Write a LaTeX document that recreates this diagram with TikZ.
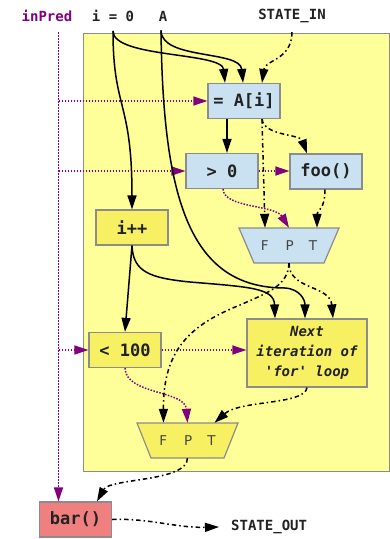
\documentclass[tikz,border=0pt]{standalone}
\usepackage{fontspec}
\setmainfont{DejaVu Sans}
\setmonofont{DejaVu Sans Mono}
\usetikzlibrary{arrows.meta,calc}
\definecolor{bigyellow}{HTML}{FFFF99}
\definecolor{nodeyellow}{HTML}{F7F062}
\definecolor{nodeblue}{HTML}{C9E1F0}
\definecolor{nodered}{HTML}{F08080}
\definecolor{bordergrey}{HTML}{8C8C8C}
\definecolor{purp}{HTML}{800080}
\definecolor{txt}{HTML}{222222}
\definecolor{fptgrey}{HTML}{444444}
\begin{document}
\begin{tikzpicture}[x=1pt,y=-1pt,
  box/.style={draw=bordergrey, line width=1.2pt, minimum width=72pt, minimum height=35pt,
    inner sep=0pt, font=\ttfamily\bfseries\fontsize{17}{20}\selectfont, text=txt},
  bluebox/.style={box, fill=nodeblue},
  yellowbox/.style={box, fill=nodeyellow},
  redbox/.style={box, fill=nodered},
  lbl/.style={font=\ttfamily\bfseries\fontsize{14}{17}\selectfont, text=txt, inner sep=0pt},
  fpttext/.style={inner sep=0pt, minimum width=70pt, minimum height=35pt,
    font=\fontsize{13.5}{15}\selectfont, text=fptgrey},
  trapline/.style={draw=bordergrey, line width=1.2pt},
  flow/.style={line width=1.5pt, -{Triangle[length=14pt,width=9pt]}},
  statef/.style={flow, dash pattern=on 4.5pt off 3pt on 1.5pt off 3pt},
  pred/.style={line width=1.5pt, purp, dash pattern=on 1.5pt off 1.5pt,
    -{Triangle[length=14pt,width=9pt]}},
]
\useasboundingbox (0,0) rectangle (390,539);

% loop body
\node[draw=bordergrey, fill=bigyellow, line width=1pt, minimum width=306pt,
  minimum height=438pt, inner sep=0pt] (loop) at (236,252) {};

% top labels
\node[lbl, text=purp] (inpred) at (47,16) {inPred};
\node[lbl] (i0) at (113,16) {i = 0};
\node[lbl] (A) at (163,16) {A};
\node[lbl] (sin) at (292,16) {STATE\_IN};

% boxes
\node[bluebox] (ai) at (244,101) {= A[i]};
\node[bluebox] (gt) at (222,171) {> 0};
\node[bluebox] (foo) at (326,171.5) {foo()};
\node[yellowbox] (inc) at (132,227.5) {i++};
\node[yellowbox, minimum width=120pt, minimum height=68pt, align=center,
  font=\ttfamily\bfseries\itshape\fontsize{14}{20}\selectfont] (nxt) at (307,353)
  {Next\\iteration of\\\textquotesingle for\textquotesingle{} loop};
\node[yellowbox] (lt) at (125,350) {< 100};
\node[redbox] (bar) at (75.5,519.5) {bar()};
\node[lbl, anchor=west] (sout) at (231,527) {STATE\_OUT};

% trapezia
\coordinate (fptbc) at (289,245.5);
\draw[trapline, fill=nodeblue] ($(fptbc)+(-50,-17.5)$) -- ($(fptbc)+(50,-17.5)$)
  -- ($(fptbc)+(35,17.5)$) -- ($(fptbc)+(-35,17.5)$) -- cycle;
\node[fpttext] (fptb) at (fptbc) {F\hspace{17pt}P\hspace{15pt}T};

\coordinate (fptyc) at (187.5,440.5);
\draw[trapline, fill=nodeyellow] ($(fptyc)+(-50.5,-17.5)$) -- ($(fptyc)+(50.5,-17.5)$)
  -- ($(fptyc)+(36.5,17.5)$) -- ($(fptyc)+(-36.5,17.5)$) -- cycle;
\node[fpttext] (fpty) at (fptyc) {F\hspace{17pt}P\hspace{15pt}T};

% predicate (purple dotted)
\coordinate (ip) at (58.5,32);
\draw[pred] (ip) -- (ip |- bar.north);
\draw[pred] (ip |- ai.west) -- (ai.west);
\draw[pred] (ip |- gt.west) -- (gt.west);
\draw[pred] (ip |- lt.west) -- (lt.west);
\draw[pred] (gt.east) -- (gt.east -| foo.west);
\draw[pred] (lt.east) -- (lt.east -| nxt.west);
\draw[pred] ([xshift=1pt]gt.south) .. controls (224,208) and (275,205) .. (fptb.north);
\draw[pred] (lt.south) .. controls (126,395) and (185,390) .. (fpty.north);

% data flow (solid)
\draw[flow] ([yshift=-9pt]i0.south) .. controls (113,58) and (222,52) .. ([xshift=-19pt]ai.north);
\draw[flow] ([xshift=-2pt,yshift=-9pt]A.south) .. controls (161,60) and (240,50) .. ([xshift=-1pt]ai.north);
\draw[flow] ([yshift=-9pt]i0.south) .. controls (113,110) and (132,100) .. (inc.north);
\draw[flow] ([xshift=-2pt,yshift=-9pt]A.south) .. controls (163,200) and (190,288) .. (285,288)
  .. controls (300,289) and (305,300) .. ([xshift=-2pt]nxt.north);
\draw[flow] ([xshift=-17pt]ai.south) -- ([xshift=-17pt]ai.south |- gt.north);
\draw[flow] (inc.south) -- (lt.north);
\draw[flow] (inc.south) .. controls (133,272) and (150,278) .. (190,282)
  .. controls (250,287) and (274,288) .. ([xshift=-32pt]nxt.north);

% state (dash-dot)
\draw[statef] ([yshift=-9pt]sin.south) .. controls (292,60) and (265,60) .. ([xshift=18pt]ai.north);
\draw[statef] ([xshift=18pt]ai.south) -- ([xshift=-24pt]fptb.north);
\draw[statef] ([xshift=18pt]ai.south) .. controls (264,136) and (300,134) .. ([xshift=-19pt]foo.north);
\draw[statef] ([xshift=-1pt]foo.south) .. controls (325,210) and (317,210) .. ([xshift=28pt]fptb.north);
\draw[statef] (fptb.south) .. controls (289,290) and (330,285) .. ([xshift=26pt]nxt.north);
\draw[statef] (fptb.south) .. controls (288,285) and (270,292) .. (240,305)
  .. controls (190,325) and (163,350) .. ([xshift=-24pt]fpty.north);
\draw[statef] (nxt.south) .. controls (305,405) and (240,400) .. ([xshift=27pt]fpty.north);
\draw[statef] (fpty.south) .. controls (187,482) and (110,478) .. ([xshift=21.5pt]bar.north);
\draw[statef] (bar.east) .. controls (150,518) and (175,528) .. ([xshift=-12pt]sout.west);
\end{tikzpicture}
\end{document}
